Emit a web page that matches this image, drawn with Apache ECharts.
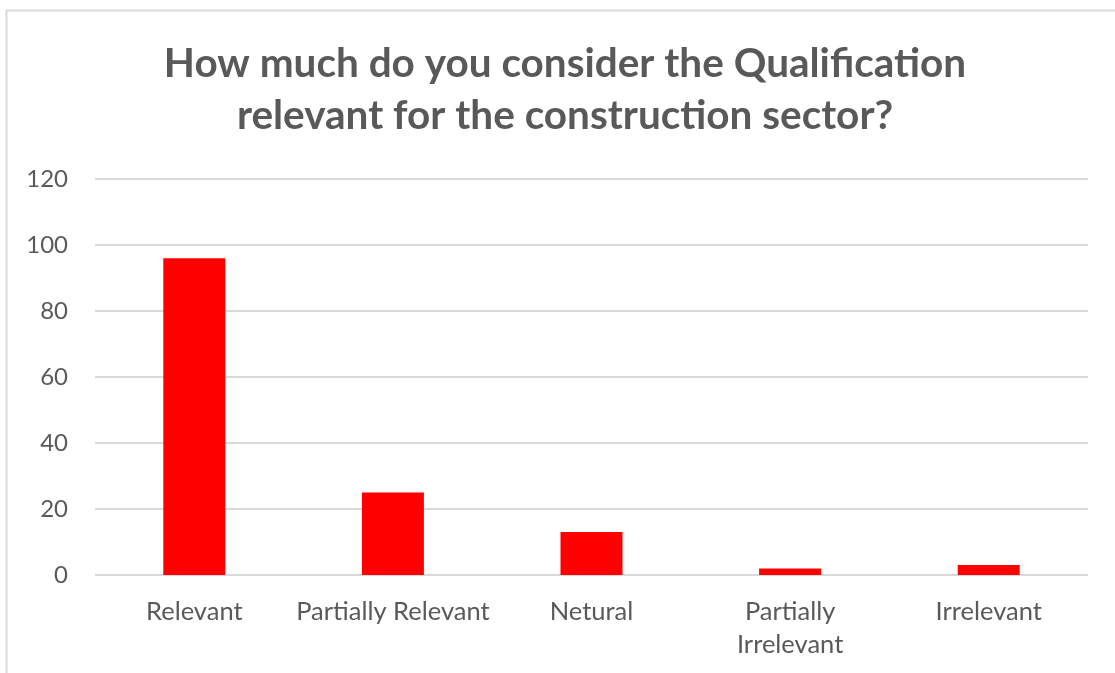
<!DOCTYPE html>
<html><head><meta charset="utf-8">
<script src="https://cdn.jsdelivr.net/npm/echarts@6/dist/echarts.min.js"></script>
<style>html,body{margin:0;padding:0;background:#fff}#c{width:1115px;height:673px}</style>
</head><body><div id="c"></div>
<script>
const titleText = "How much do you consider the Qualification\nrelevant for the construction sector?";
const categories = ["Relevant", "Partially Relevant", "Netural", "Partially\nIrrelevant", "Irrelevant"];
const values = [96, 25, 13, 2, 3];
const yTicks = { min: 0, max: 120, interval: 20 };

const chart = echarts.init(document.getElementById('c'), null, { renderer: 'canvas' });
chart.setOption({
  animation: false,
  backgroundColor: '#fff',
  graphic: [{
    type: 'rect', shape: { x: 6.5, y: 10.5, width: 1120, height: 700 },
    style: { fill: 'none', stroke: '#d9d9d9', lineWidth: 2 }, silent: true
  }],
  title: {
    text: titleText, left: 560, textAlign: 'center', top: 33,
    textStyle: { fontFamily: 'Lato', fontWeight: 'bold', fontSize: 40.5, color: '#595959', lineHeight: 52 }
  },
  grid: { left: 95, right: 27, top: 179, bottom: 98, containLabel: false },
  xAxis: {
    type: 'category', data: categories,
    axisLine: { show: false }, axisTick: { show: false },
    axisLabel: { color: '#595959', fontFamily: 'Lato', fontSize: 25.5, margin: 20, lineHeight: 33, interval: 0 }
  },
  yAxis: {
    type: 'value', min: yTicks.min, max: yTicks.max, interval: yTicks.interval,
    axisLine: { show: false }, axisTick: { show: false },
    axisLabel: { color: '#595959', fontFamily: 'Lato', fontSize: 24, margin: 27 },
    splitLine: { lineStyle: { color: '#d9d9d9', width: 2 } }
  },
  series: [{
    type: 'bar', data: values, barWidth: 62,
    itemStyle: { color: '#ff0000' }
  }]
});
</script></body></html>
